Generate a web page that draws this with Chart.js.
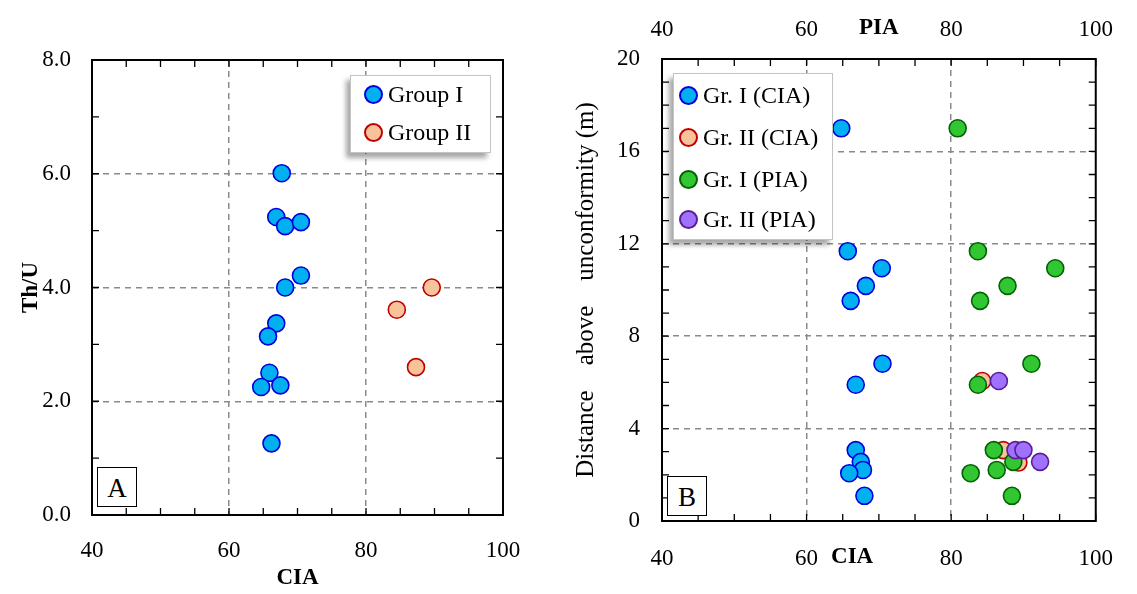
<!DOCTYPE html>
<html>
<head>
<meta charset="utf-8">
<script src="https://cdn.jsdelivr.net/npm/chart.js@4.4.1/dist/chart.umd.min.js"></script>
<style>
  body { margin: 0; background: #fff; font-family: "Liberation Serif", serif; }
  #wrap { position: relative; width: 1137px; height: 594px; overflow: hidden; }
  .panel { position: absolute; top: 0; height: 594px; }
  .legend { position: absolute; background: #fff; border: 1px solid #c4c4c4; box-shadow: -4px 5px 5px rgba(0,0,0,0.35); }
  .row { position: absolute; height: 28px; display: flex; align-items: center; font-size: 24px; color: #000; white-space: nowrap; }
  .dot { width: 15px; height: 15px; border-radius: 50%; border: 2px solid; margin-right: 5px; flex: none; }
  .tag { position: absolute; width: 38px; height: 38px; border: 1.5px solid #000; background: #fff;
         font-size: 27px; text-align: center; line-height: 40px; }
</style>
</head>
<body>
<div id="wrap">
  <div class="panel" style="left:0;width:560px"><canvas id="chartA"></canvas></div>
  <div class="panel" style="left:560px;width:577px"><canvas id="chartB"></canvas></div>
  <div class="legend" id="legA" style="left:350px;top:75px;width:139px;height:76px"></div>
  <div class="legend" id="legB" style="left:673px;top:73px;width:158px;height:165px"></div>
  <div class="tag" style="left:97px;top:467px">A</div>
  <div class="tag" style="left:667px;top:476px">B</div>
</div>
<script>
// panel A: CIA vs Th/U
const ciaGroup1 = [67.7, 66.9, 68.2, 70.5, 70.5, 68.2, 66.9, 65.7, 65.9, 64.7, 67.5, 66.2];
const thuGroup1 = [6.01, 5.24, 5.08, 5.15, 4.21, 4.0, 3.37, 3.14, 2.5, 2.25, 2.28, 1.26];
const ciaGroup2 = [89.6, 84.5, 87.3];
const thuGroup2 = [4.0, 3.61, 2.6];

// panel B: CIA / PIA vs distance above unconformity
const distGroup1 = [17.0, 11.68, 10.94, 10.18, 9.53, 6.81, 5.9, 3.07, 2.56, 2.21, 2.07, 1.09];
const ciaGroup1B = [64.8, 65.7, 70.4, 68.2, 66.1, 70.5, 66.8, 66.8, 67.5, 67.8, 65.9, 68.0];
const piaGroup1 = [80.9, 83.7, 94.4, 87.8, 84.0, 91.1, 83.7, 85.9, 88.6, 86.3, 82.7, 88.4];
const ciaGroup2B = [84.3, 87.2, 89.3];
const distGroup2Cia = [6.06, 3.07, 2.53];
const piaGroup2 = [86.6, 88.9, 90.0, 92.3];
const distGroup2Pia = [6.06, 3.07, 3.07, 2.56];

const xTicks = [40, 60, 80, 100];
const thuTicks = [0, 2, 4, 6, 8];
const distTicks = [0, 4, 8, 12, 16, 20];

const colors = {
  g1: { fill: "#00b0f0", line: "#0000dd" },
  g2: { fill: "#f8c39a", line: "#c00000" },
  g1p: { fill: "#33c633", line: "#006400" },
  g2p: { fill: "#a070ff", line: "#5a1e96" },
};

const serif = "'Liberation Serif', serif";
const pts = (xs, ys) => xs.map((x, i) => ({ x: x, y: ys[i] }));

function dataset(label, xs, ys, c, order, axis) {
  return {
    label: label,
    data: pts(xs, ys),
    backgroundColor: c.fill,
    borderColor: c.line,
    borderWidth: 1.6,
    pointRadius: 8.5,
    pointHoverRadius: 8.5,
    order: order,
    xAxisID: axis || "x",
  };
}

// dashed grid only on the inner values
function gridAt(values) {
  return {
    color: (ctx) => (ctx.tick && values.includes(ctx.tick.value) ? "#8a8a8a" : "rgba(0,0,0,0)"),
    lineWidth: 1.5,
    drawTicks: false,
  };
}

// box round the plot with small inward ticks
const frameTicks = {
  id: "frameTicks",
  afterDatasetsDraw(chart, args, opts) {
    const { ctx, chartArea: a, scales } = chart;
    const len = 7;
    ctx.save();
    ctx.strokeStyle = "#000";
    ctx.lineWidth = 1.3;
    ctx.beginPath();
    const xs = scales.x;
    for (let i = 0; i <= (xs.max - xs.min) / opts.xStep; i++) {
      const px = xs.getPixelForValue(xs.min + i * opts.xStep);
      ctx.moveTo(px, a.bottom);
      ctx.lineTo(px, a.bottom - len);
      ctx.moveTo(px, a.top);
      ctx.lineTo(px, a.top + len);
    }
    const ys = scales.y;
    for (let i = 0; i <= (ys.max - ys.min) / opts.yStep; i++) {
      const py = ys.getPixelForValue(ys.min + i * opts.yStep);
      ctx.moveTo(a.left, py);
      ctx.lineTo(a.left + len, py);
      ctx.moveTo(a.right, py);
      ctx.lineTo(a.right - len, py);
    }
    ctx.stroke();
    ctx.lineWidth = 2;
    ctx.strokeRect(a.left, a.top, a.right - a.left, a.bottom - a.top);
    if (opts.text) {
      ctx.fillStyle = "#000";
      ctx.font = "bold 23px " + serif;
      ctx.textAlign = "center";
      ctx.textBaseline = "middle";
      ctx.fillText(opts.text, xs.getPixelForValue(opts.textAt), a.bottom + opts.textDy);
    }
    ctx.restore();
  },
};

const tickFont = { family: serif, size: 23 };
const titleFont = { family: serif, size: 23, weight: "bold" };

new Chart(document.getElementById("chartA"), {
  type: "scatter",
  data: {
    datasets: [
      dataset("Group I", ciaGroup1, thuGroup1, colors.g1, 2),
      dataset("Group II", ciaGroup2, thuGroup2, colors.g2, 1),
    ],
  },
  options: {
    responsive: true,
    maintainAspectRatio: false,
    animation: false,
    events: [],
    layout: { padding: { left: 0, right: 57, top: 60, bottom: 0 } },
    plugins: { legend: { display: false }, tooltip: { enabled: false }, frameTicks: { xStep: 5, yStep: 1 } },
    scales: {
      x: {
        type: "linear", min: 40, max: 100,
        afterBuildTicks: (s) => { s.ticks = xTicks.map((v) => ({ value: v })); },
        afterFit: (s) => { s.height = 79; },
        grid: gridAt([60, 80]),
        border: { display: false, dash: [6, 5] },
        ticks: { font: tickFont, color: "#000", padding: 22, maxRotation: 0 },
        title: { display: true, text: "CIA", font: titleFont, color: "#000", padding: { top: 0, bottom: 2 } },
      },
      y: {
        type: "linear", min: 0, max: 8,
        afterBuildTicks: (s) => { s.ticks = thuTicks.map((v) => ({ value: v })); },
        afterFit: (s) => { s.width = 92; },
        grid: gridAt([2, 4, 6]),
        border: { display: false, dash: [6, 5] },
        ticks: { font: tickFont, color: "#000", padding: 21, callback: (v) => v.toFixed(1) },
        title: { display: true, text: "Th/U", font: titleFont, color: "#000", padding: { top: 17, bottom: 0 } },
      },
    },
  },
  plugins: [frameTicks],
});

new Chart(document.getElementById("chartB"), {
  type: "scatter",
  data: {
    datasets: [
      dataset("Gr. I (CIA)", ciaGroup1B, distGroup1, colors.g1, 4),
      dataset("Gr. II (CIA)", ciaGroup2B, distGroup2Cia, colors.g2, 3),
      dataset("Gr. I (PIA)", piaGroup1, distGroup1, colors.g1p, 2, "x2"),
      dataset("Gr. II (PIA)", piaGroup2, distGroup2Pia, colors.g2p, 1, "x2"),
    ],
  },
  options: {
    responsive: true,
    maintainAspectRatio: false,
    animation: false,
    events: [],
    layout: { padding: { left: 0, right: 19, top: 0, bottom: 0 } },
    plugins: {
      legend: { display: false }, tooltip: { enabled: false },
      frameTicks: { xStep: 5, yStep: 1, text: "CIA", textAt: 66.3, textDy: 36 },
    },
    scales: {
      x: {
        type: "linear", min: 40, max: 100, position: "bottom",
        afterBuildTicks: (s) => { s.ticks = xTicks.map((v) => ({ value: v })); },
        afterFit: (s) => { s.height = 73; },
        grid: gridAt([60, 80]),
        border: { display: false, dash: [6, 5] },
        ticks: { font: tickFont, color: "#000", padding: 24, maxRotation: 0 },
      },
      x2: {
        type: "linear", min: 40, max: 100, position: "top",
        afterBuildTicks: (s) => { s.ticks = xTicks.map((v) => ({ value: v })); },
        afterFit: (s) => { s.height = 59; },
        grid: { display: false, drawTicks: false },
        border: { display: false },
        ticks: { font: tickFont, color: "#000", padding: 15, maxRotation: 0 },
        title: { display: true, text: "PIA", font: titleFont, color: "#000", padding: { top: 14, bottom: 0 } },
      },
      y: {
        type: "linear", min: 0, max: 20,
        afterBuildTicks: (s) => { s.ticks = distTicks.map((v) => ({ value: v })); },
        afterFit: (s) => { s.width = 102; },
        grid: gridAt([4, 8, 12, 16]),
        border: { display: false, dash: [6, 5] },
        ticks: { font: tickFont, color: "#000", padding: 22 },
        title: {
          display: true, text: "Distance    above    unconformity (m)",
          font: { family: serif, size: 25 }, color: "#000", padding: { top: 11, bottom: 0 },
        },
      },
    },
  },
  plugins: [frameTicks],
});

// html legends built from the dataset labels
function buildLegend(id, items, rows, dotLeft) {
  const box = document.getElementById(id);
  items.forEach((it, i) => {
    const r = document.createElement("div");
    r.className = "row";
    r.style.left = dotLeft + "px";
    r.style.top = rows[i] - 14 + "px";
    const d = document.createElement("span");
    d.className = "dot";
    d.style.background = it.c.fill;
    d.style.borderColor = it.c.line;
    r.appendChild(d);
    r.appendChild(document.createTextNode(it.label));
    box.appendChild(r);
  });
}
buildLegend("legA", [
  { label: "Group I", c: colors.g1 },
  { label: "Group II", c: colors.g2 },
], [18, 56], 13);
buildLegend("legB", [
  { label: "Gr. I (CIA)", c: colors.g1 },
  { label: "Gr. II (CIA)", c: colors.g2 },
  { label: "Gr. I (PIA)", c: colors.g1p },
  { label: "Gr. II (PIA)", c: colors.g2p },
], [21, 63, 105, 145], 5);
</script>
</body>
</html>
